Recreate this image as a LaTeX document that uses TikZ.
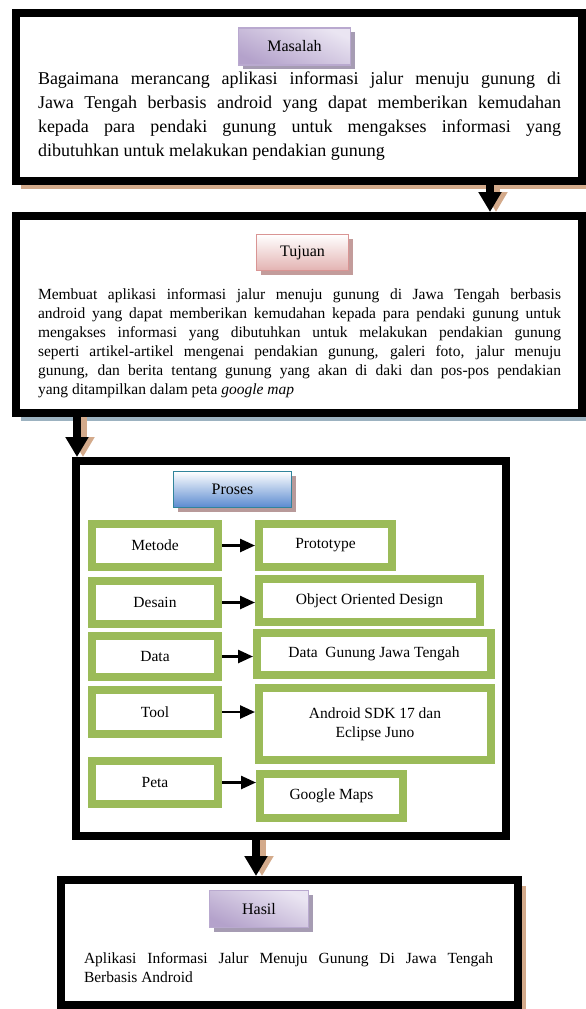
\documentclass[tikz,border=0pt]{standalone}
\usepackage{fontspec}
\setmainfont{Liberation Serif}
\usetikzlibrary{positioning,arrows.meta,shadows}

\definecolor{daun}{HTML}{9BBB59}
\definecolor{coklat}{HTML}{D3AA8B}
\definecolor{abubiru}{HTML}{9CB2C0}
\definecolor{ungumuda}{HTML}{EAE5F2}
\definecolor{ungutua}{HTML}{B4A2CB}
\definecolor{ungugaris}{HTML}{B9A9CF}
\definecolor{ungubayang}{HTML}{A69CB3}
\definecolor{merahmuda}{HTML}{E3B3B2}
\definecolor{merahgaris}{HTML}{D99594}
\definecolor{merahbayang}{HTML}{C39C9B}
\definecolor{birutua}{HTML}{5A8AD0}
\definecolor{birugaris}{HTML}{31849B}
\definecolor{birubayang}{HTML}{B89A9A}

\begin{document}
\begin{tikzpicture}[x=1pt, y=-1pt,
kotak/.style={draw=black, line width=8pt, fill=white, inner sep=0pt},
judul/.style={draw, line width=1.5pt, inner sep=0pt, font=\fontsize{16}{19}\selectfont},
kotakhijau/.style={draw=daun, line width=8pt, fill=white, inner sep=0pt, align=center, font=\fontsize{15.5}{19}\selectfont},
isi/.style={inner sep=0pt, align=justify, execute at begin node={\tolerance=10000\hbadness=10000\hyphenpenalty=10000}},
panah/.style={line width=2.5pt, -{Triangle[width=13pt,length=15pt]}},
panahbesar/.style={line width=8pt, -{Triangle[width=22pt,length=20pt]}, preaction={draw=coklat, line width=8pt, -{Triangle[width=22pt,length=20pt]}, transform canvas={xshift=6pt}}},
]
\useasboundingbox (0,0) rectangle (586,1009);

%Kotak utama
\node[kotak, minimum width=566, minimum height=168, drop shadow={shadow xshift=5pt, shadow yshift=-8pt, fill=coklat, opacity=1}] (masalah) at (299,97) {};
\node[kotak, minimum width=566, minimum height=197, drop shadow={shadow xshift=5pt, shadow yshift=-8pt, fill=abubiru, opacity=1}] (tujuan) at (299,314.5) {};
\node[kotak, minimum width=430, minimum height=375] (proses) at (291,648.5) {};
\node[kotak, minimum width=457, minimum height=125, drop shadow={shadow xshift=8pt, shadow yshift=-6pt, fill=coklat, opacity=1}] (hasil) at (289.5,942.5) {};

%Judul
\node[judul, draw=ungugaris, top color=ungumuda, bottom color=ungutua, shading angle=-25, minimum width=112, minimum height=37, drop shadow={shadow xshift=4pt, shadow yshift=-4pt, fill=ungubayang, opacity=1}] (judul_masalah) at (294.5,46.5) {Masalah};
\node[judul, draw=merahgaris, top color=white, bottom color=merahmuda, minimum width=92, minimum height=36, drop shadow={shadow xshift=4pt, shadow yshift=-4pt, fill=merahbayang, opacity=1}] (judul_tujuan) at (302.5,252.5) {Tujuan};
\node[judul, draw=birugaris, top color=white, bottom color=birutua, minimum width=118, minimum height=36, drop shadow={shadow xshift=4pt, shadow yshift=-4pt, fill=birubayang, opacity=1}] (judul_proses) at (232.5,489.5) {Proses};
\node[judul, draw=ungugaris, top color=ungumuda, bottom color=ungutua, shading angle=-25, minimum width=99, minimum height=37, drop shadow={shadow xshift=4pt, shadow yshift=-4pt, fill=ungubayang, opacity=1}] (judul_hasil) at (259,909) {Hasil};

%Isi
\node[isi, text width=523pt, font=\fontsize{18}{24}\selectfont] (isi_masalah) at (299.5,116) {Bagaimana merancang aplikasi informasi jalur menuju gunung di\linebreak Jawa Tengah berbasis android yang dapat memberikan kemudahan\linebreak kepada para pendaki gunung untuk mengakses informasi yang\linebreak dibutuhkan untuk melakukan pendakian gunung};
\node[isi, text width=523pt, font=\fontsize{15.5}{19}\selectfont] (isi_tujuan) at (299.5,343) {Membuat aplikasi informasi jalur menuju gunung di Jawa Tengah berbasis\linebreak android yang dapat memberikan kemudahan kepada para pendaki gunung untuk\linebreak mengakses informasi yang dibutuhkan untuk melakukan pendakian gunung\linebreak seperti artikel-artikel mengenai pendakian gunung, galeri foto, jalur menuju\linebreak gunung, dan berita tentang gunung yang akan di daki dan pos-pos pendakian\linebreak yang ditampilkan dalam peta \textit{google map}};
\node[isi, text width=409pt, font=\fontsize{15.5}{19}\selectfont] (isi_hasil) at (288.5,968) {Aplikasi Informasi Jalur Menuju Gunung Di Jawa Tengah\linebreak Berbasis Android};

%Proses
\node[kotakhijau, minimum width=126, minimum height=43] (metode)    at (155,545.5) {Metode};
\node[kotakhijau, minimum width=133, minimum height=43] (prototype) at (325.5,545.5) {Prototype};
\node[kotakhijau, minimum width=126, minimum height=43] (desain)    at (155,602.5) {Desain};
\node[kotakhijau, minimum width=221, minimum height=43] (ood)       at (369.5,600.5) {Object Oriented Design};
\node[kotakhijau, minimum width=126, minimum height=41] (data)      at (155,656.5) {Data};
\node[kotakhijau, minimum width=234, minimum height=42] (data_jateng) at (374,654) {Data\ \ Gunung Jawa Tengah};
\node[kotakhijau, minimum width=126, minimum height=44] (tool)      at (155,712) {Tool};
\node[kotakhijau, minimum width=232, minimum height=72] (sdk)       at (375,724) {Android SDK 17 dan\\Eclipse Juno};
\node[kotakhijau, minimum width=126, minimum height=43] (peta)      at (155,782.5) {Peta};
\node[kotakhijau, minimum width=143, minimum height=44] (gmaps)     at (331.5,796) {Google Maps};

%Panah
\draw[panah] (metode.east) -- (metode.east -| prototype.west);
\draw[panah] (desain.east) -- (desain.east -| ood.west);
\draw[panah] (data.east) -- (data.east -| data_jateng.west);
\draw[panah] (tool.east) -- (tool.east -| sdk.west);
\draw[panah] (peta.east) -- (peta.east -| gmaps.west);

\draw[panahbesar] ([xshift=191pt]masalah.south) -- ([xshift=191pt]masalah.south |- tujuan.north);
\draw[panahbesar] ([xshift=-222pt]tujuan.south) -- ([xshift=-222pt]tujuan.south |- proses.north);
\draw[panahbesar] ([xshift=-35pt]proses.south) -- ([xshift=-35pt]proses.south |- hasil.north);

\end{tikzpicture}
\end{document}
